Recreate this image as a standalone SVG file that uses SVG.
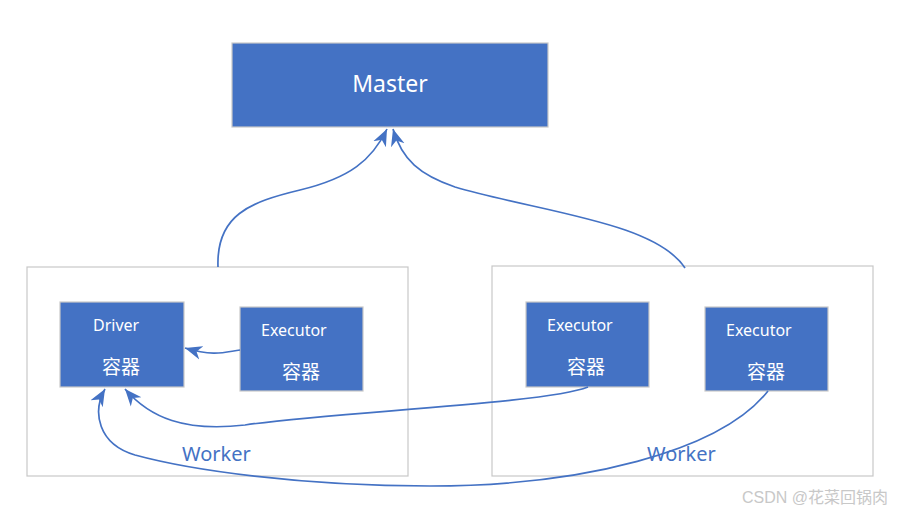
<svg xmlns="http://www.w3.org/2000/svg" width="901" height="513" viewBox="0 0 901 513">
<style>
.box{fill:#4472C4;stroke:#C8C8C8;stroke-width:1.2}
.frame{fill:#FFFFFF;stroke:#C8C8C8;stroke-width:1.2}
.t{fill:#FFFFFF;font-family:"Noto Sans","Noto Sans CJK SC",sans-serif;font-size:16px}
.k{fill:#FFFFFF;font-family:"Noto Sans CJK SC",sans-serif;font-size:19px}
.w{fill:#4472C4;font-family:"Noto Sans","Noto Sans CJK SC",sans-serif;font-size:20px}
.c{fill:none;stroke:#4472C4;stroke-width:1.7}
</style>
<defs>
<marker id="ah" markerUnits="userSpaceOnUse" markerWidth="20" markerHeight="16" refX="17" refY="8" orient="auto">
<path d="M0,1 L17,8 L0,15 L5,8 Z" fill="#4472C4"/>
</marker>
</defs>
<rect width="901" height="513" fill="#FFFFFF"/>
<g id="worker-left"><rect class="frame" x="27" y="267" width="381" height="209"/><text class="w" x="182" y="461">Worker</text></g>
<g id="worker-right"><rect class="frame" x="492" y="266" width="381" height="210"/><text class="w" x="647" y="461">Worker</text></g>
<g id="master"><rect class="box" x="232" y="43" width="316" height="84"/><text x="390" y="92" text-anchor="middle" style="fill:#fff;font-family:'Noto Sans',sans-serif;font-size:23px">Master</text></g>
<g id="driver"><rect class="box" x="60" y="302" width="124" height="85"/><text class="t" x="93" y="331">Driver</text><text class="k" x="102" y="374">容器</text></g>
<g id="executor1"><rect class="box" x="240" y="307" width="123" height="84"/><text class="t" x="261" y="336">Executor</text><text class="k" x="282" y="379">容器</text></g>
<g id="executor2"><rect class="box" x="526" y="302" width="123" height="85"/><text class="t" x="547" y="331">Executor</text><text class="k" x="567" y="374">容器</text></g>
<g id="executor3"><rect class="box" x="705" y="307" width="123" height="84"/><text class="t" x="726" y="336">Executor</text><text class="k" x="747" y="379">容器</text></g>
<g id="connectors">
<path class="c" marker-end="url(#ah)" d="M218,267 C216,215 250,202 300,190 C350,178 372,160 387,129"/>
<path class="c" marker-end="url(#ah)" d="M685,268 C655,222 540,212 455,187 C420,175 402,160 393,129"/>
<path class="c" marker-end="url(#ah)" d="M240,350 C225,352 215,357 185,348"/>
<path class="c" marker-end="url(#ah)" d="M588,387 C545,404 330,412 245,425 C185,432 150,418 125,389"/>
<path class="c" marker-end="url(#ah)" d="M768,391 C720,452 580,486 430,486 C300,486 190,470 135,455 C98,444 92,412 105,389"/>
</g>
<text x="742" y="503" style="fill:#C8C8C8;font-family:'Liberation Sans','Noto Sans CJK SC',sans-serif;font-size:16px">CSDN @花菜回锅肉</text>
</svg>
